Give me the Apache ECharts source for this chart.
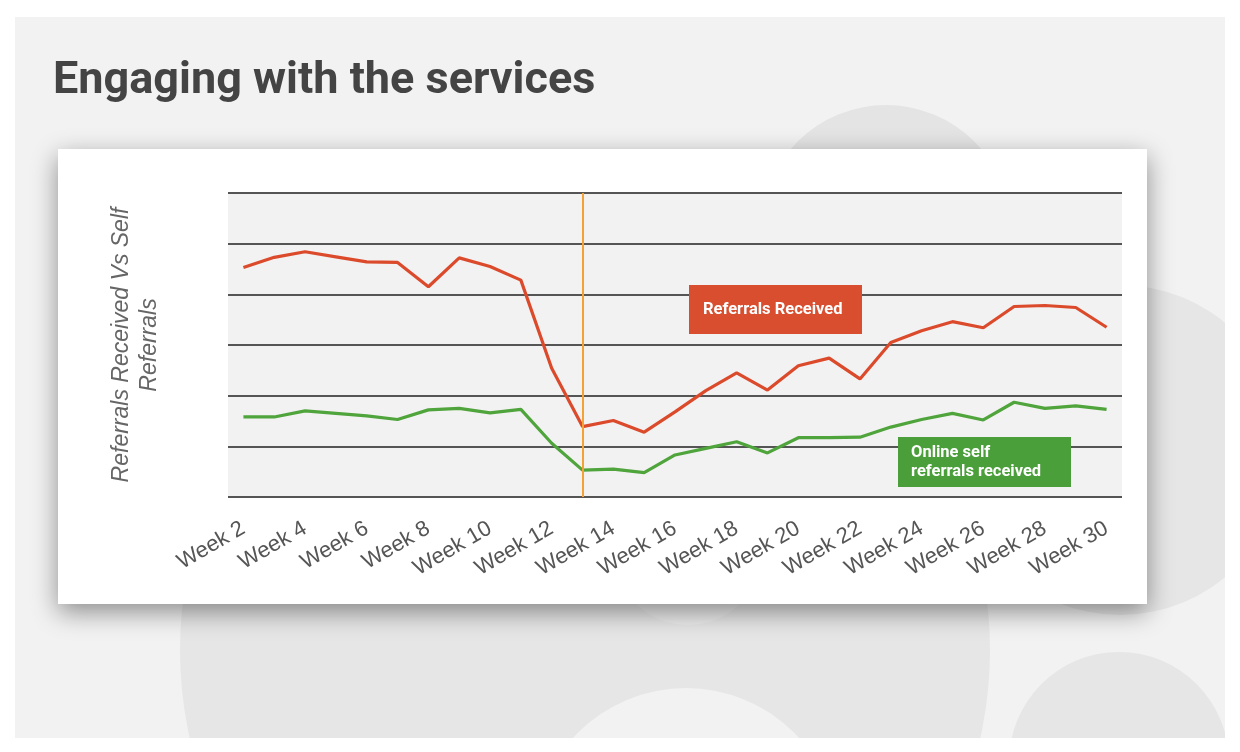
<!DOCTYPE html>
<html>
<head>
<meta charset="utf-8">
<script src="https://cdn.jsdelivr.net/npm/echarts@6/dist/echarts.min.js"></script>
<style>
  html, body { margin: 0; padding: 0; background: #ffffff; width: 1240px; height: 752px; overflow: hidden; }
  #panel { position: absolute; left: 15px; top: 17px; width: 1210px; height: 721px; background: #f2f2f2; overflow: hidden; }
  .c { position: absolute; border-radius: 50%; }
  #card { position: absolute; left: 58px; top: 149px; width: 1089px; height: 455px; background: #ffffff;
          box-shadow: 0 8px 24px rgba(0,0,0,0.42); }
  #chart { position: absolute; left: 0; top: 0; width: 1240px; height: 752px; }
</style>
</head>
<body>
<div id="panel">
  <div class="c" style="left:746px; top:88px; width:250px; height:250px; background:#e4e4e4;"></div>
  <div class="c" style="left:165px; top:228px; width:810px; height:810px; background:#e6e6e6;"></div>
  <div class="c" style="left:518px; top:671px; width:306px; height:306px; background:#f2f2f2;"></div>
  <div class="c" style="left:598px; top:458px; width:150px; height:150px; background:#ebebeb;"></div>
  <div class="c" style="left:940px; top:268px; width:330px; height:330px; background:#e6e6e6;"></div>
  <div class="c" style="left:994px; top:635px; width:220px; height:220px; background:#e6e6e6;"></div>
</div>
<div id="card"></div>
<div id="chart"></div>
<script>
const categories = ['Week 2','Week 3','Week 4','Week 5','Week 6','Week 7','Week 8','Week 9','Week 10','Week 11',
  'Week 12','Week 13','Week 14','Week 15','Week 16','Week 17','Week 18','Week 19','Week 20','Week 21',
  'Week 22','Week 23','Week 24','Week 25','Week 26','Week 27','Week 28','Week 29','Week 30'];
const referralsReceived = [45.3, 47.3, 48.4, 47.4, 46.4, 46.3, 41.5, 47.2, 45.5, 42.8,
  25.4, 13.9, 15.1, 12.8, 16.8, 21.0, 24.5, 21.1, 25.9, 27.4,
  23.3, 30.5, 32.8, 34.6, 33.4, 37.6, 37.8, 37.4, 33.5];
const onlineSelfReferrals = [15.8, 15.8, 17.0, 16.5, 16.0, 15.3, 17.2, 17.5, 16.6, 17.3,
  10.6, 5.3, 5.5, 4.8, 8.3, 9.6, 10.9, 8.7, 11.7, 11.7,
  11.8, 13.8, 15.3, 16.5, 15.2, 18.7, 17.5, 18.0, 17.3];
const markerWeek = 'Week 13';
const seriesNames = ['Referrals Received', 'Online self\nreferrals received'];
const titleText = 'Engaging with the services';
const yAxisName = 'Referrals Received Vs Self\nReferrals';

const chart = echarts.init(document.getElementById('chart'), null, { renderer: 'canvas' });
chart.setOption({
  backgroundColor: 'transparent',
  animation: false,
  title: {
    text: titleText, left: 48, top: 54,
    textStyle: { fontFamily: 'Roboto', fontWeight: 'bold', fontSize: 45, color: '#444444' }
  },
  grid: { left: 228, right: 118, top: 193, bottom: 255, show: true, backgroundColor: '#f2f2f2', borderWidth: 0 },
  xAxis: {
    type: 'category', data: categories, boundaryGap: true,
    axisLine: { show: false }, axisTick: { show: false },
    axisLabel: { interval: 1, rotate: 30, margin: 30, fontFamily: 'Liberation Sans, Arial, sans-serif', fontSize: 22, color: '#555555' },
    splitLine: { show: false }
  },
  yAxis: {
    type: 'value', min: 0, max: 60, interval: 10,
    name: yAxisName, nameLocation: 'middle', nameGap: 64, nameRotate: 90,
    nameTextStyle: { fontFamily: 'Liberation Sans, Arial, sans-serif', fontStyle: 'italic', fontSize: 23, color: '#666666', lineHeight: 28, align: 'center' },
    axisLine: { show: false }, axisTick: { show: false }, axisLabel: { show: false },
    splitLine: { show: true, lineStyle: { color: '#555555', width: 2 } }
  },
  graphic: [
    { type: 'group', left: 689, top: 285, z: 100, children: [
      { type: 'rect', z: 100, shape: { x: 0, y: 0, width: 173, height: 49 }, style: { fill: '#d84e2f' } },
      { type: 'text', z: 101, x: 14, y: 25, style: { text: seriesNames[0], fill: '#ffffff', font: 'bold 16.5px Roboto', textVerticalAlign: 'middle' } }
    ]},
    { type: 'group', left: 898, top: 437, z: 100, children: [
      { type: 'rect', z: 100, shape: { x: 0, y: 0, width: 173, height: 50 }, style: { fill: '#4b9f3b' } },
      { type: 'text', z: 101, x: 13, y: 25, style: { text: seriesNames[1], fill: '#ffffff', font: 'bold 16.5px Roboto', lineHeight: 19, textVerticalAlign: 'middle' } }
    ]}
  ],
  series: [
    {
      name: seriesNames[0], type: 'line', data: referralsReceived, symbol: 'none', z: 3,
      lineStyle: { color: '#dc4a2c', width: 3.2 },
      markLine: {
        silent: true, symbol: 'none', label: { show: false },
        lineStyle: { color: '#f4a236', width: 2, type: 'solid' },
        data: [{ xAxis: markerWeek }]
      }
    },
    {
      name: seriesNames[1], type: 'line', data: onlineSelfReferrals, symbol: 'none', z: 3,
      lineStyle: { color: '#4fa43b', width: 3.2 }
    }
  ]
});
</script>
</body>
</html>
